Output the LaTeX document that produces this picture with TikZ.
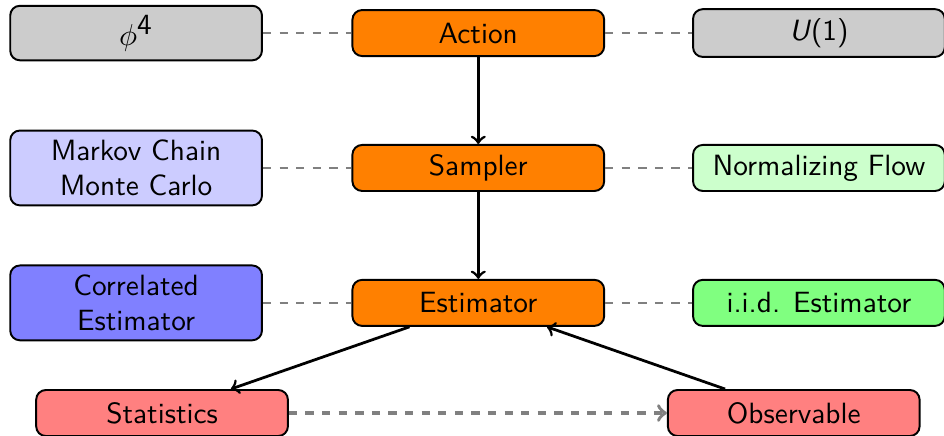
\documentclass[tikz,border=0pt]{standalone}
\usepackage{tikz}
\usetikzlibrary{arrows}
\usetikzlibrary{calc}

\begin{document}
\begin{tikzpicture}
[>=to,every node/.style={rectangle,rounded corners=3.5pt,draw,line width=.7pt,minimum width=3.2cm,minimum height=0.585cm,align=center,font=\sffamily\fontsize{10.6}{12.8}\selectfont}]

\useasboundingbox (0,0) rectangle (12,-5.53);

% pipeline
\node[fill=orange] (act) at (6.08,-0.42) {Action};
\node[fill=orange] (samp) at (6.08,-2.135) {Sampler};
\node[fill=orange] (est) at (6.08,-3.85) {Estimator};

% left column
\node[fill=gray!40] (phi) at (1.73,-0.42) {$\phi^{\textsf{4}}$};
\node[fill=blue!20] (mcmc) at (1.73,-2.135) {Markov Chain\\Monte Carlo};
\node[fill=blue!50] (corr) at (1.73,-3.85) {Correlated\\Estimator};

% right column
\node[fill=gray!40] (u1) at (10.41,-0.42) {\textit{U}(1)};
\node[fill=green!20] (nf) at (10.41,-2.135) {Normalizing Flow};
\node[fill=green!50] (iid) at (10.41,-3.85) {i.i.d. Estimator};

% bottom row
\node[fill=red!50] (stat) at (2.06,-5.25) {Statistics};
\node[fill=red!50] (obs) at (10.09,-5.25) {Observable};

\foreach \from/\to in {phi/act,act/u1,mcmc/samp,samp/nf,corr/est,est/iid}
\draw [gray,line width=.7pt] (\from) edge [dashed] (\to);

\foreach \from/\to in {act/samp,samp/est,est/stat,obs/est}
\draw [->,line width=1pt] (\from) edge (\to);

\draw [->,gray,line width=1.3pt] (stat) edge [dashed] (obs);

\end{tikzpicture}
\end{document}
